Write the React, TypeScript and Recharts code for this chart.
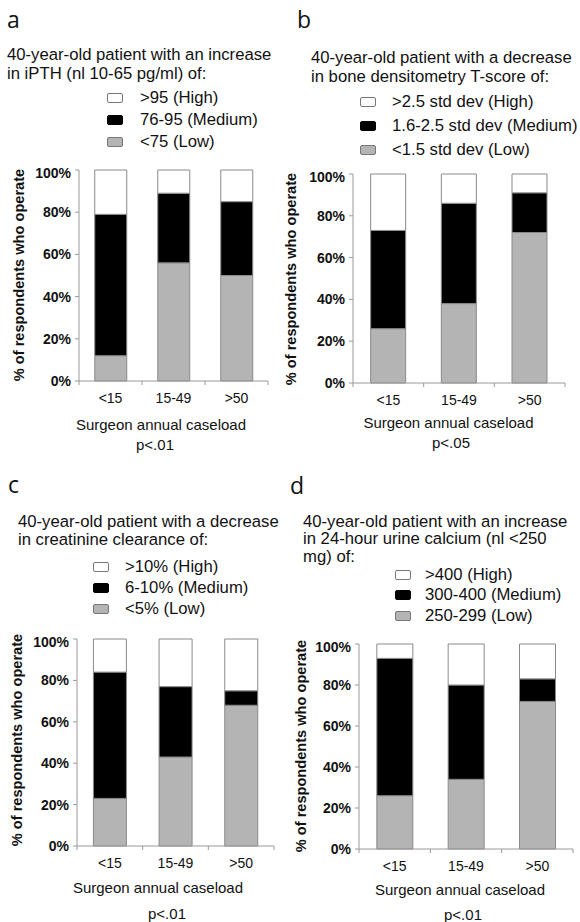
import React from 'react';
import { BarChart, Bar, XAxis, YAxis } from 'recharts';

// shared axis values
const categories = ['<15', '15-49', '>50'];
const yTicks = [0, 20, 40, 60, 80, 100];
const seriesKeys = ['high', 'medium', 'low'];

// a - iPTH
const ipthTitle = ['40-year-old patient with an increase', 'in iPTH (nl 10-65 pg/ml) of:'];
const ipthLegend = ['>95 (High)', '76-95 (Medium)', '<75 (Low)'];
const ipthLow = [12, 56, 50];
const ipthMedium = [67, 33, 35];
const ipthHigh = [21, 11, 15];

// b - bone densitometry
const boneTitle = ['40-year-old patient with a decrease', 'in bone densitometry T-score of:'];
const boneLegend = ['>2.5 std dev (High)', '1.6-2.5 std dev (Medium)', '<1.5 std dev (Low)'];
const boneLow = [26, 38, 72];
const boneMedium = [47, 48, 19];
const boneHigh = [27, 14, 9];

// c - creatinine clearance
const creatTitle = ['40-year-old patient with a decrease', 'in creatinine clearance of:'];
const creatLegend = ['>10% (High)', '6-10% (Medium)', '<5% (Low)'];
const creatLow = [23, 43, 68];
const creatMedium = [61, 34, 7];
const creatHigh = [16, 23, 25];

// d - urine calcium
const calcTitle = ['40-year-old patient with an increase', 'in 24-hour urine calcium (nl <250', 'mg) of:'];
const calcLegend = ['>400 (High)', '300-400 (Medium)', '250-299 (Low)'];
const calcLow = [26, 34, 72];
const calcMedium = [67, 46, 11];
const calcHigh = [7, 20, 17];

const yLabel = '% of respondents who operate';
const xLabel = 'Surgeon annual caseload';

const FONT = '"Liberation Sans", Arial, sans-serif';
const FILLS: Record<string, string> = { high: '#ffffff', medium: '#000000', low: '#b4b4b4' };
const EDGE = '#8a8a8a';
const AXIS = '#9a9a9a';
const TXT = 16.7;

const buildRows = (low: number[], medium: number[], high: number[]) =>
  categories.map((c, i) => ({ cat: c, low: low[i], medium: medium[i], high: high[i] }));

// absolute text placed by baseline
function Txt({ x, base, size = TXT, weight = 400, anchor = 'left', family = FONT, children }: any) {
  const style: React.CSSProperties = {
    position: 'absolute',
    top: base - 0.8465 * size,
    fontSize: size,
    lineHeight: `${size}px`,
    fontWeight: weight,
    fontFamily: family,
    whiteSpace: 'nowrap',
    color: '#111',
  };
  if (anchor === 'middle') {
    style.left = x - 150;
    style.width = 300;
    style.textAlign = 'center';
  } else {
    style.left = x;
  }
  return <div style={style}>{children}</div>;
}

function Panel({ cfg }: any) {
  const { letter, title, legend, rows, p, plot, lay } = cfg;
  const YW = 50;
  const MT = 5;
  const XH = 30;
  const half = plot.w / categories.length / 2;

  const CatTick = (props: any) => {
    const { x, y, payload, index, visibleTicksCount } = props;
    const h = payload && payload.offset ? payload.offset : half;
    const axisY = y - 8;
    const last = index === (visibleTicksCount ?? categories.length) - 1;
    return (
      <g>
        <line x1={x - h} x2={x - h} y1={axisY} y2={axisY + 4} stroke={AXIS} />
        {last && <line x1={x + h} x2={x + h} y1={axisY} y2={axisY + 4} stroke={AXIS} />}
        <text x={x} y={axisY + 22} textAnchor="middle" fontSize={14} fontFamily={FONT} fill="#111">
          {payload.value}
        </text>
      </g>
    );
  };

  return (
    <>
      <Txt x={lay.letter.x} base={lay.letter.base} size={23} family='"Open Sans", sans-serif'>
        {letter}
      </Txt>
      {title.map((t: string, i: number) => (
        <Txt key={t} x={lay.title.x} base={lay.title.base + i * lay.title.step}>
          {t}
        </Txt>
      ))}
      {legend.map((t: string, i: number) => {
        const base = lay.legend.base + i * lay.legend.step;
        return (
          <React.Fragment key={t}>
            <div
              style={{
                position: 'absolute',
                left: lay.legend.sq,
                top: base - 11,
                width: 14,
                height: 8,
                border: `1px solid ${i === 1 ? '#000' : '#777'}`,
                borderRadius: 2,
                background: FILLS[seriesKeys[i]],
              }}
            />
            <Txt x={lay.legend.tx} base={base}>
              {t}
            </Txt>
          </React.Fragment>
        );
      })}
      <div
        style={{
          position: 'absolute',
          left: lay.yLabel.cx - 130,
          top: lay.yLabel.cy - 8,
          width: 260,
          height: 16,
          lineHeight: '16px',
          textAlign: 'center',
          fontFamily: FONT,
          fontWeight: 700,
          fontSize: 14.6,
          color: '#111',
          transform: 'rotate(-90deg)',
          transformOrigin: 'center',
          whiteSpace: 'nowrap',
        }}
      >
        {yLabel}
      </div>
      <div style={{ position: 'absolute', left: plot.x - YW, top: plot.y - MT }}>
        <BarChart
          width={YW + plot.w + 5}
          height={MT + plot.h + XH}
          data={rows}
          margin={{ top: MT, right: 5, left: 0, bottom: 0 }}
          barCategoryGap="25%"
        >
          <XAxis
            dataKey="cat"
            height={XH}
            tickLine={false}
            tickSize={6}
            tickMargin={2}
            axisLine={{ stroke: AXIS }}
            tick={<CatTick />}
            interval={0}
          />
          <YAxis
            width={YW}
            domain={[0, 100]}
            ticks={yTicks}
            tickFormatter={(v: number) => `${v}%`}
            tickSize={4}
            tickMargin={4}
            axisLine={{ stroke: AXIS }}
            tickLine={{ stroke: AXIS }}
            tick={{ fontSize: 14, fontWeight: 700, fill: '#111', fontFamily: FONT }}
          />
          <Bar dataKey="low" stackId="s" fill={FILLS.low} stroke={EDGE} strokeWidth={1} isAnimationActive={false} />
          <Bar dataKey="medium" stackId="s" fill={FILLS.medium} stroke={EDGE} strokeWidth={1} isAnimationActive={false} />
          <Bar dataKey="high" stackId="s" fill={FILLS.high} stroke={EDGE} strokeWidth={1} isAnimationActive={false} />
        </BarChart>
      </div>
      <Txt x={lay.xLabel.cx} base={lay.xLabel.base} size={15} anchor="middle">
        {xLabel}
      </Txt>
      <Txt x={lay.p.cx} base={lay.p.base} size={15} anchor="middle">
        {p}
      </Txt>
    </>
  );
}

const panels = [
  {
    letter: 'a',
    title: ipthTitle,
    legend: ipthLegend,
    rows: buildRows(ipthLow, ipthMedium, ipthHigh),
    p: 'p<.01',
    plot: { x: 79, y: 170, w: 189, h: 211 },
    lay: {
      letter: { x: 7, base: 27 },
      title: { x: 7, base: 61, step: 19 },
      legend: { sq: 107, tx: 140, base: 104, step: 22.2 },
      yLabel: { cx: 18.5, cy: 275 },
      xLabel: { cx: 161, base: 430 },
      p: { cx: 155, base: 450 },
    },
  },
  {
    letter: 'b',
    title: boneTitle,
    legend: boneLegend,
    rows: buildRows(boneLow, boneMedium, boneHigh),
    p: 'p<.05',
    plot: { x: 353, y: 174, w: 212, h: 209 },
    lay: {
      letter: { x: 297, base: 27 },
      title: { x: 311, base: 64, step: 19.5 },
      legend: { sq: 360, tx: 392, base: 108, step: 24.2 },
      yLabel: { cx: 291, cy: 279 },
      xLabel: { cx: 448.5, base: 428 },
      p: { cx: 451, base: 448 },
    },
  },
  {
    letter: 'c',
    title: creatTitle,
    legend: creatLegend,
    rows: buildRows(creatLow, creatMedium, creatHigh),
    p: 'p<.01',
    plot: { x: 77, y: 639, w: 197, h: 207 },
    lay: {
      letter: { x: 8, base: 492 },
      title: { x: 18, base: 528.3, step: 17.5 },
      legend: { sq: 93, tx: 125, base: 573.3, step: 21 },
      yLabel: { cx: 16.5, cy: 740 },
      xLabel: { cx: 158, base: 893 },
      p: { cx: 167, base: 919 },
    },
  },
  {
    letter: 'd',
    title: calcTitle,
    legend: calcLegend,
    rows: buildRows(calcLow, calcMedium, calcHigh),
    p: 'p<.01',
    plot: { x: 359, y: 644, w: 214, h: 205 },
    lay: {
      letter: { x: 290, base: 493 },
      title: { x: 303, base: 527.7, step: 17.7 },
      legend: { sq: 395, tx: 425, base: 580.7, step: 20.5 },
      yLabel: { cx: 301, cy: 746 },
      xLabel: { cx: 460, base: 895 },
      p: { cx: 463, base: 920 },
    },
  },
];

export default function App() {
  return (
    <div style={{ position: 'absolute', left: 0, top: 0, width: 580, height: 922, background: '#fff', overflow: 'hidden' }}>
      {panels.map((cfg) => (
        <Panel key={cfg.letter} cfg={cfg} />
      ))}
    </div>
  );
}
